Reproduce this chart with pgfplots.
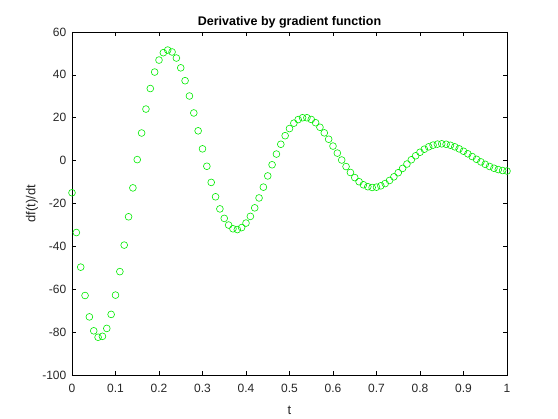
\documentclass[border=0pt]{standalone}
\usepackage{pgfplots}
\pgfplotsset{compat=1.18}
\usepackage{fontspec}
\setmainfont{Liberation Sans}
\definecolor{mgreen}{RGB}{0,235,0}
\begin{document}
\begin{tikzpicture}
\path[use as bounding box] (-72pt,-44pt) rectangle (486pt,375pt);
\begin{axis}[
  at={(0,0)}, anchor=south west,
  scale only axis, width=435pt, height=343pt,
  xmin=0, xmax=1, ymin=-100, ymax=60,
  xtick={0,0.1,...,1}, xticklabels={0,0.1,0.2,0.3,0.4,0.5,0.6,0.7,0.8,0.9,1},
  ytick={-100,-80,...,60},
  tick align=inside, tick pos=both,
  major tick length=4pt,
  tick style={black, line width=0.5pt},
  axis line style={black, line width=0.6pt},
  /pgf/number format/assume math mode=true,
  ticklabel style={font=\fontsize{12}{14}\selectfont, text=black!85},
  xticklabel style={anchor=base, yshift=-18pt},
  yticklabel style={anchor=east, inner sep=0pt, xshift=-5.5pt},
  title={\textbf{Derivative by gradient function}},
  every axis title shift=0pt,
  title style={font=\fontsize{12.5}{15}\selectfont, at={(axis description cs:0.5,1)}, anchor=base, yshift=6.5pt},
  xlabel={t}, ylabel={df(t)/dt},
  label style={font=\fontsize{13}{15}\selectfont, text=black!85},
  xlabel style={at={(axis description cs:0.5,0)}, anchor=base, yshift=-40pt},
  ylabel style={at={(axis description cs:-0.092,0.5)}, anchor=center},
]
\addplot[only marks, mark=o, mark size=3.4pt, mgreen, mark options={line width=0.6pt}] table {
t y
0.00 -15.00
0.01 -33.55
0.02 -49.69
0.03 -62.92
0.04 -72.89
0.05 -79.40
0.06 -82.39
0.07 -81.95
0.08 -78.28
0.09 -71.74
0.10 -62.74
0.11 -51.78
0.12 -39.41
0.13 -26.20
0.14 -12.72
0.15 0.47
0.16 12.88
0.17 24.05
0.18 33.63
0.19 41.31
0.20 46.91
0.21 50.34
0.22 51.57
0.23 50.68
0.24 47.85
0.25 43.29
0.26 37.28
0.27 30.14
0.28 22.23
0.29 13.90
0.30 5.50
0.31 -2.62
0.32 -10.17
0.33 -16.87
0.34 -22.52
0.35 -26.95
0.36 -30.05
0.37 -31.79
0.38 -32.16
0.39 -31.24
0.40 -29.14
0.41 -26.01
0.42 -22.03
0.43 -17.41
0.44 -12.38
0.45 -7.14
0.46 -1.93
0.47 3.06
0.48 7.63
0.49 11.63
0.50 14.95
0.51 17.47
0.52 19.16
0.53 20.00
0.54 19.99
0.55 19.19
0.56 17.68
0.57 15.56
0.58 12.95
0.59 9.97
0.60 6.78
0.61 3.50
0.62 0.28
0.63 -2.77
0.64 -5.53
0.65 -7.91
0.66 -9.84
0.67 -11.27
0.68 -12.17
0.69 -12.53
0.70 -12.38
0.71 -11.75
0.72 -10.69
0.73 -9.26
0.74 -7.56
0.75 -5.65
0.76 -3.63
0.77 -1.59
0.78 0.40
0.79 2.26
0.80 3.91
0.81 5.32
0.82 6.44
0.83 7.23
0.84 7.70
0.85 7.83
0.86 7.64
0.87 7.17
0.88 6.43
0.89 5.49
0.90 4.38
0.91 3.17
0.92 1.90
0.93 0.62
0.94 -0.60
0.95 -1.72
0.96 -2.72
0.97 -3.55
0.98 -4.19
0.99 -4.62
1.00 -4.85
};
\end{axis}
\end{tikzpicture}
\end{document}
